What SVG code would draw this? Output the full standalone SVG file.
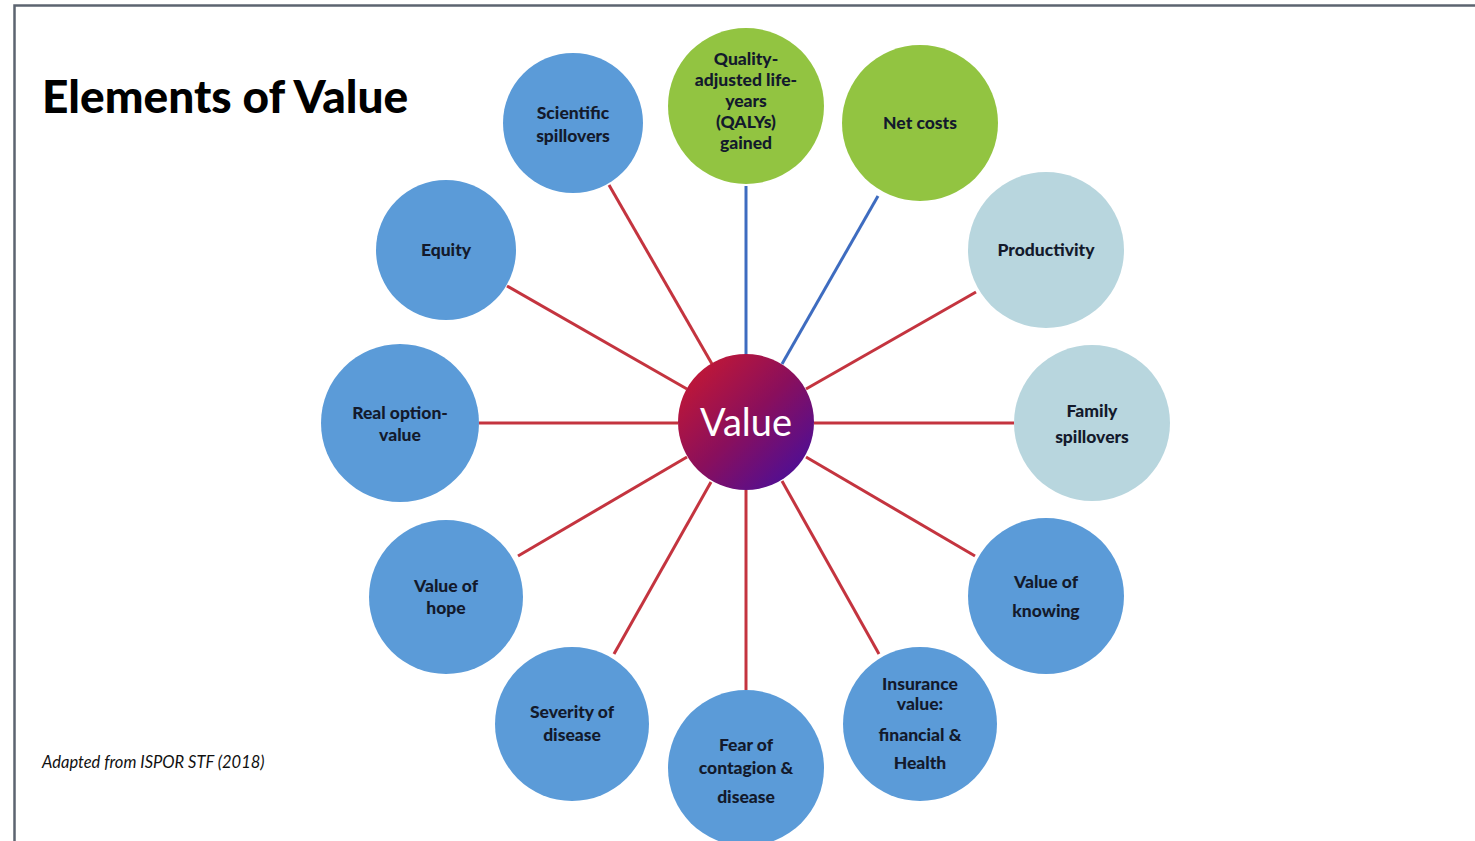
<svg xmlns="http://www.w3.org/2000/svg" width="1475" height="841" viewBox="0 0 1475 841">
<defs>
<linearGradient id="vg" x1="0" y1="0" x2="1" y2="1">
<stop offset="0" stop-color="#d01a2c"/>
<stop offset="0.5" stop-color="#8a0f5c"/>
<stop offset="1" stop-color="#3d0ea6"/>
</linearGradient>
<style>
.blue{fill:#5b9bd8}
.green{fill:#92c441}
.pale{fill:#b8d6de}
.lbl{font-family:Lato,"Open Sans","Liberation Sans",sans-serif;font-weight:900;font-size:17.5px;fill:#131a2c;text-anchor:middle}
.r{stroke:#c4343f;stroke-width:3;fill:none}
.b{stroke:#3e6cc0;stroke-width:3;fill:none}
</style>
</defs>
<rect width="1475" height="841" fill="#ffffff"/>
<path d="M14.5 841 V5.5 H1475" fill="none" stroke="#5c6470" stroke-width="2.5"/>
<text x="42" y="113" font-family="Lato,'Open Sans','Liberation Sans',sans-serif" font-weight="900" font-size="46" fill="#000">Elements of Value</text>
<text x="42" y="768" font-family="Lato,'Open Sans','Liberation Sans',sans-serif" font-style="italic" font-size="16.5" fill="#111">Adapted from ISPOR STF (2018)</text>
<g id="connectors">
<line class="b" x1="746" y1="186" x2="746" y2="356"/>
<line class="b" x1="878" y1="196" x2="782" y2="364"/>
<line class="r" x1="609" y1="185" x2="712" y2="364"/>
<line class="r" x1="507" y1="286" x2="687" y2="389"/>
<line class="r" x1="479" y1="423" x2="678" y2="423"/>
<line class="r" x1="518" y1="556" x2="687" y2="457"/>
<line class="r" x1="614" y1="654" x2="711" y2="482"/>
<line class="r" x1="746" y1="690" x2="746" y2="490"/>
<line class="r" x1="879" y1="654" x2="782" y2="481"/>
<line class="r" x1="975" y1="556" x2="806" y2="457"/>
<line class="r" x1="1014" y1="423" x2="814" y2="423"/>
<line class="r" x1="976" y1="292" x2="806" y2="389"/>
</g>
<g id="value">
<circle cx="746" cy="422" r="68" fill="url(#vg)"/>
<text x="746" y="436" text-anchor="middle" font-family="Lato,'Open Sans','Liberation Sans',sans-serif" font-size="38" fill="#ffffff">Value</text>
</g>
<g id="qaly">
<circle class="green" cx="746" cy="106" r="78"/>
<text class="lbl" x="746" y="65">Quality-</text>
<text class="lbl" x="746" y="86">adjusted life-</text>
<text class="lbl" x="746" y="107">years</text>
<text class="lbl" x="746" y="128">(QALYs)</text>
<text class="lbl" x="746" y="149">gained</text>
</g>
<g id="netcosts">
<circle class="green" cx="920" cy="123" r="78"/>
<text class="lbl" x="920" y="129">Net costs</text>
</g>
<g id="productivity">
<circle class="pale" cx="1046" cy="250" r="78"/>
<text class="lbl" x="1046" y="256">Productivity</text>
</g>
<g id="family">
<circle class="pale" cx="1092" cy="423" r="78"/>
<text class="lbl" x="1092" y="417">Family</text>
<text class="lbl" x="1092" y="443">spillovers</text>
</g>
<g id="knowing">
<circle class="blue" cx="1046" cy="596" r="78"/>
<text class="lbl" x="1046" y="588">Value of</text>
<text class="lbl" x="1046" y="617">knowing</text>
</g>
<g id="insurance">
<circle class="blue" cx="920" cy="724" r="77"/>
<text class="lbl" x="920" y="690">Insurance</text>
<text class="lbl" x="920" y="710">value:</text>
<text class="lbl" x="920" y="741">financial &amp;</text>
<text class="lbl" x="920" y="769">Health</text>
</g>
<g id="fear">
<circle class="blue" cx="746" cy="768" r="78"/>
<text class="lbl" x="746" y="751">Fear of</text>
<text class="lbl" x="746" y="774">contagion &amp;</text>
<text class="lbl" x="746" y="803">disease</text>
</g>
<g id="severity">
<circle class="blue" cx="572" cy="724" r="77"/>
<text class="lbl" x="572" y="718">Severity of</text>
<text class="lbl" x="572" y="741">disease</text>
</g>
<g id="hope">
<circle class="blue" cx="446" cy="597" r="77"/>
<text class="lbl" x="446" y="592">Value of</text>
<text class="lbl" x="446" y="614">hope</text>
</g>
<g id="realoption">
<circle class="blue" cx="400" cy="423" r="79"/>
<text class="lbl" x="400" y="419">Real option-</text>
<text class="lbl" x="400" y="441">value</text>
</g>
<g id="equity">
<circle class="blue" cx="446" cy="250" r="70"/>
<text class="lbl" x="446" y="256">Equity</text>
</g>
<g id="scientific">
<circle class="blue" cx="573" cy="123" r="70"/>
<text class="lbl" x="573" y="119">Scientific</text>
<text class="lbl" x="573" y="142">spillovers</text>
</g>
</svg>
